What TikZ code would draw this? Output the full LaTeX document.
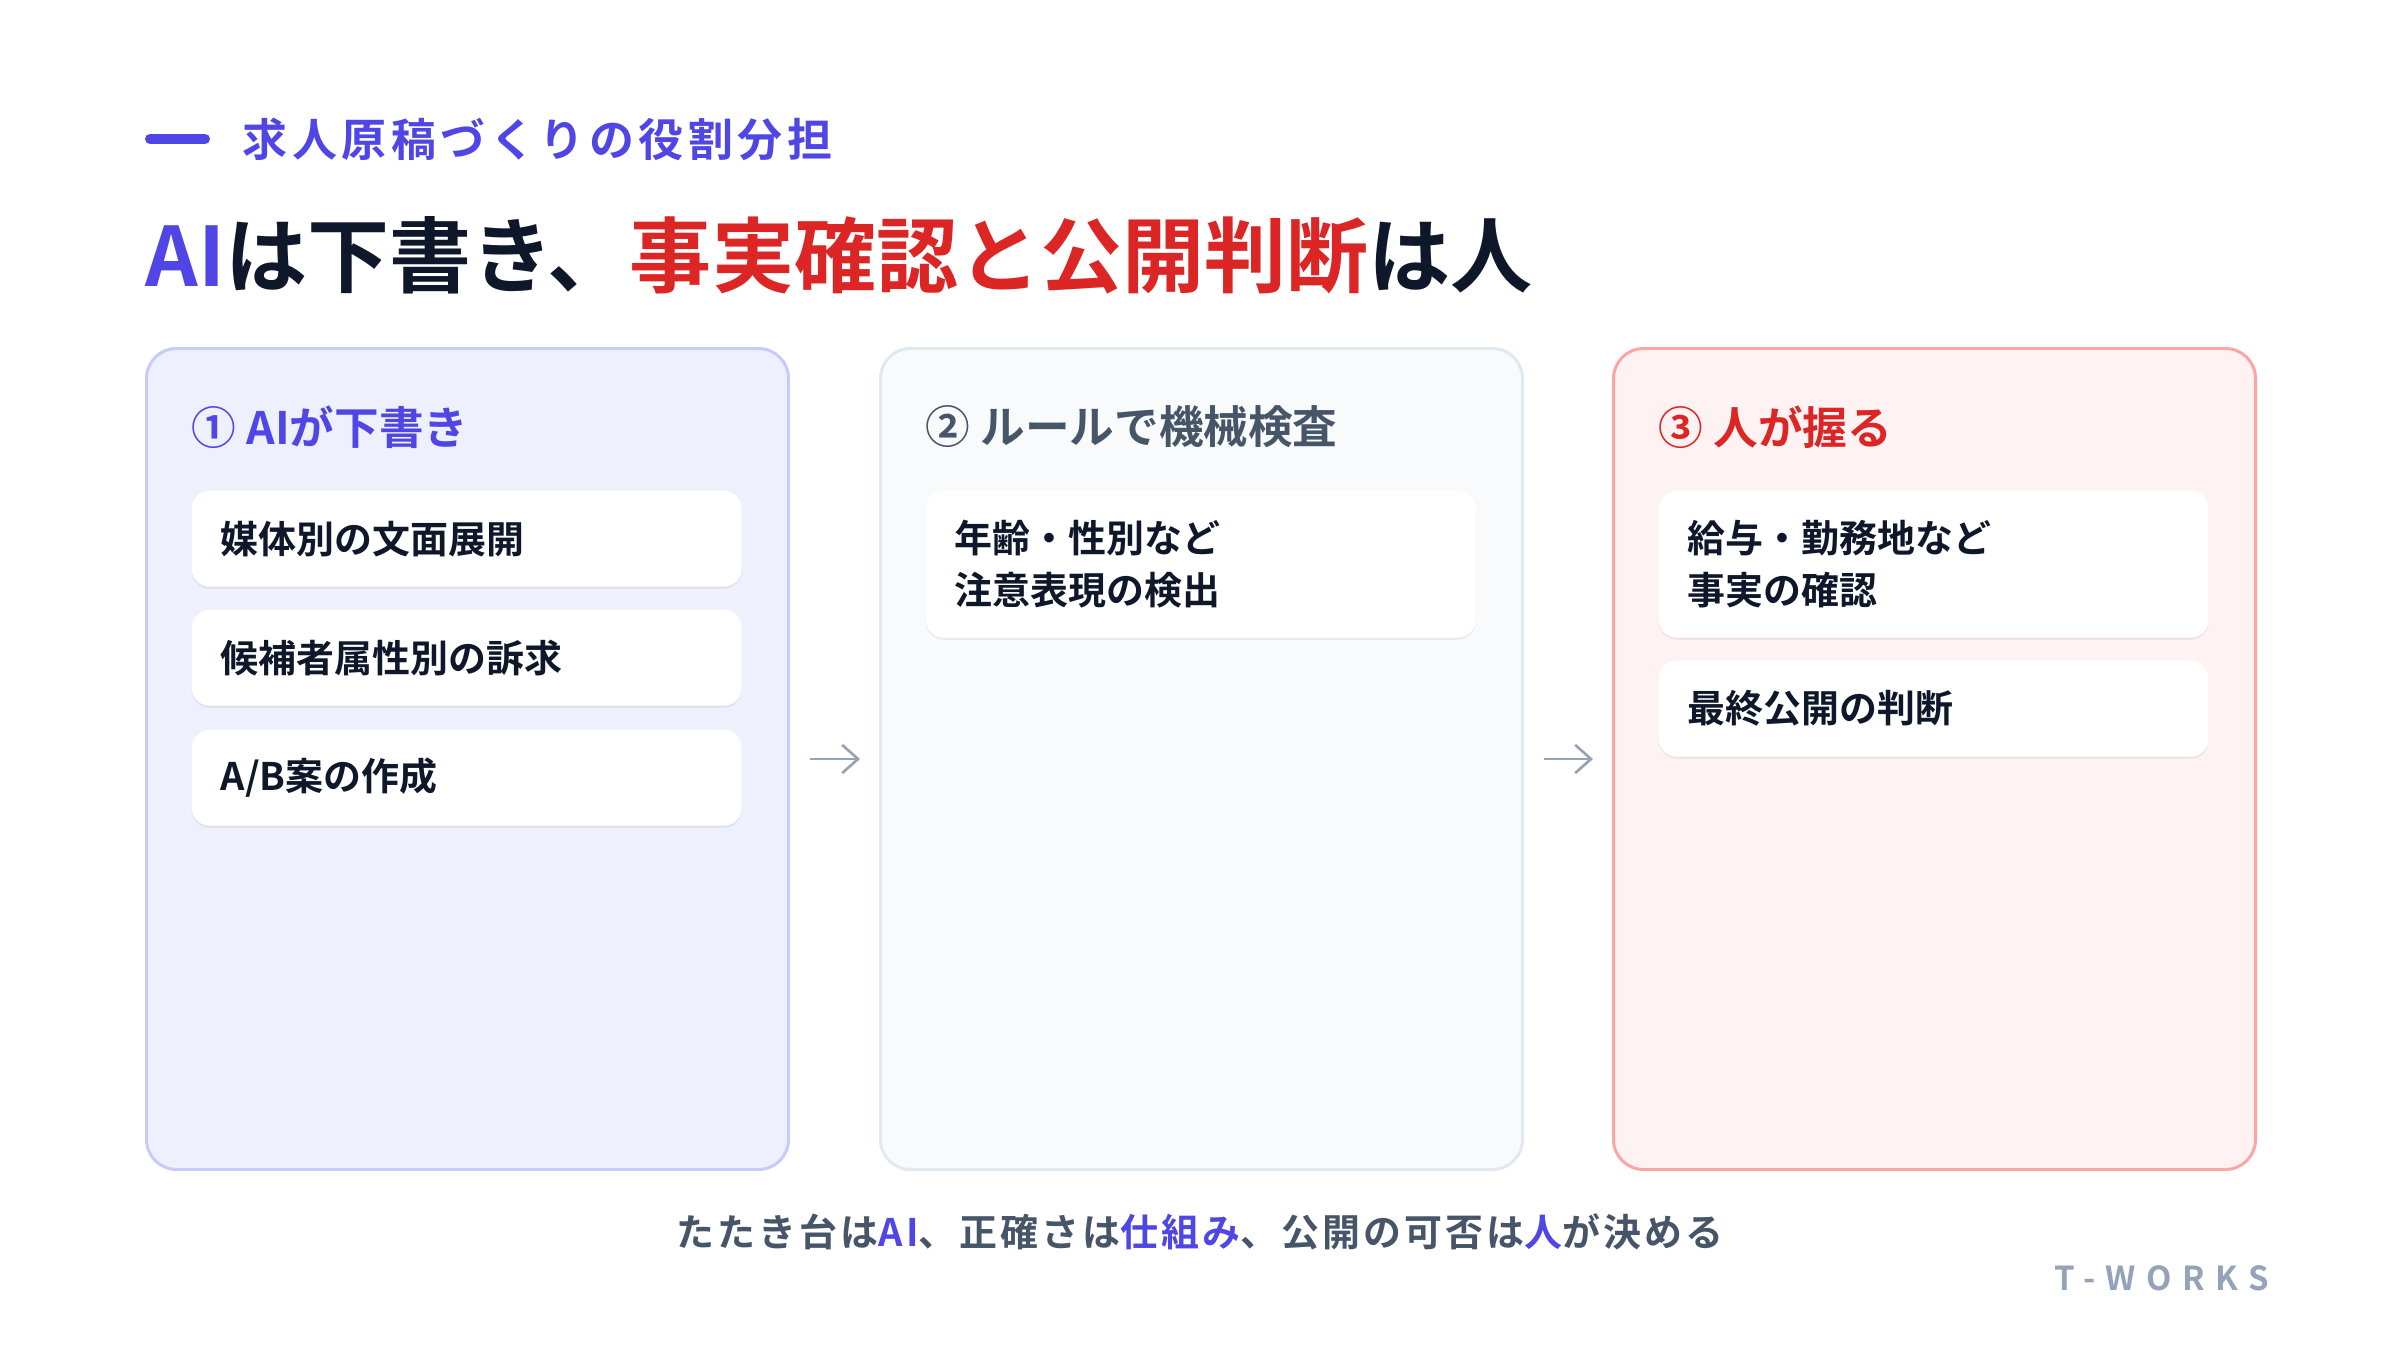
\documentclass[tikz,border=0pt]{standalone}
\usepackage{fontspec}
\setmainfont{Noto Sans CJK JP}[BoldFont=* Bold]
\newfontfamily\widefont{Noto Sans CJK JP Bold}[LetterSpace=10]
\newfontfamily\footfont{Noto Sans CJK JP Bold}[LetterSpace=8]
\newfontfamily\brandfont{Noto Sans CJK JP Bold}[LetterSpace=32]
\usetikzlibrary{arrows.meta,shadows}

\definecolor{indigo}{HTML}{4F46E5}
\definecolor{alert}{HTML}{DC2626}
\definecolor{ink}{HTML}{0F172A}
\definecolor{slate}{HTML}{475569}
\definecolor{mist}{HTML}{94A3B8}
\definecolor{aifill}{HTML}{EEF0FE}
\definecolor{ailine}{HTML}{C7CBF8}
\definecolor{rulefill}{HTML}{F8FAFC}
\definecolor{ruleline}{HTML}{E2E8F0}
\definecolor{humanfill}{HTML}{FEF2F2}
\definecolor{humanline}{HTML}{FCA5A5}

\newcommand\itemfont{\fontsize{10.8}{14.8}\selectfont\bfseries}

\begin{document}
\begin{tikzpicture}[x=0.1mm, y=-0.1mm,
  card/.style={line width=0.85pt, rounded corners=3mm, minimum width=64.2mm,
    minimum height=82.1mm, anchor=north west, inner sep=0pt},
  item/.style={fill=white, rounded corners=1.8mm, anchor=north west,
    text width=49.2mm, inner xsep=2.9mm, inner ysep=0pt, align=left,
    font=\itemfont, text=ink,
    drop shadow={shadow xshift=0pt, shadow yshift=-0.6pt, opacity=0.06, fill=black}},
  head/.style={anchor=west, inner sep=0pt, font=\fontsize{12.7}{14}\selectfont\bfseries},
  flow/.style={draw=mist, line width=0.75pt, -{Straight Barb[length=4.5pt,width=8pt]},
    shorten <=2mm, shorten >=1.9mm}]
  \useasboundingbox[fill=white] (0,0) rectangle (2400,1350);

  \draw[indigo, line width=2.85pt, line cap=round] (150,139) -- (205,139);
  \node (kicker) at (242,139) [anchor=west, inner sep=0pt, text=indigo,
    font=\widefont\fontsize{12.8}{14}\selectfont] {求人原稿づくりの役割分担};
  \node (title) at (145,255) [anchor=west, inner sep=0pt, text=ink,
    font=\fontsize{23.35}{27}\selectfont\bfseries]
    {{\color{indigo}AI}は下書き、{\color{alert}事実確認と公開判断}は人};

  \node (c1) at (145,347) [card, draw=ailine, fill=aifill] {};
  \node (c2) at (879,347) [card, draw=ruleline, fill=rulefill] {};
  \node (c3) at (1612,347) [card, draw=humanline, fill=humanfill] {};

  \node (h1) at (191,427) [head, text=indigo] {① AIが下書き};
  \node (h2) at (925,427) [head, text=slate] {② ルールで機械検査};
  \node (h3) at (1658,427) [head, text=alert] {③ 人が握る};

  \node (a1) at (191,490) [item, minimum height=9.6mm] {媒体別の文面展開};
  \node (a2) at (191,609) [item, minimum height=9.6mm] {候補者属性別の訴求};
  \node (a3) at (191,729) [item, minimum height=9.6mm] {A/B案の作成};
  \node (b1) at (925,490) [item, minimum height=14.7mm] {年齢・性別など\\注意表現の検出};
  \node (d1) at (1658,490) [item, minimum height=14.7mm] {給与・勤務地など\\事実の確認};
  \node (d2) at (1658,660) [item, minimum height=9.6mm] {最終公開の判断};

  \draw[flow] (c1.east) -- (c2.west);
  \draw[flow] (c2.east) -- (c3.west);

  \node (footer) at (1200,1232) [inner sep=0pt, text=slate,
    font=\footfont\fontsize{10.8}{13}\selectfont]
    {たたき台は{\color{indigo}AI}、正確さは{\color{indigo}仕組み}、公開の可否は{\color{indigo}人}が決める};
  \node (brand) at (2054,1278) [anchor=west, inner sep=0pt, text=mist,
    font=\brandfont\fontsize{9.4}{11}\selectfont] {T-WORKS};
\end{tikzpicture}
\end{document}
